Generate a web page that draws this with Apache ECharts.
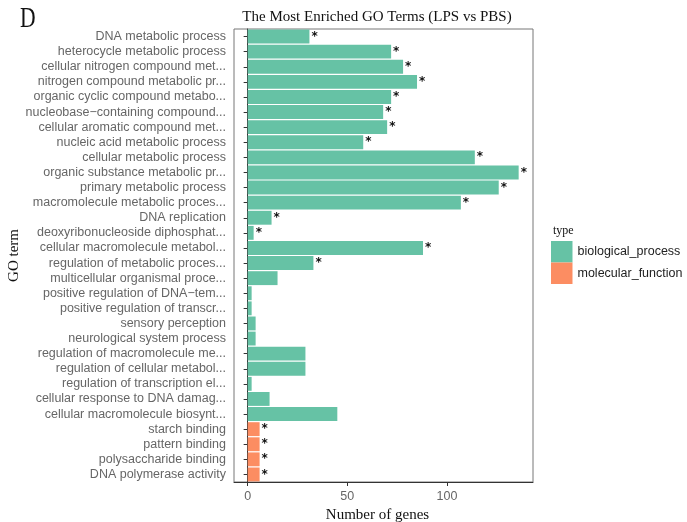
<!DOCTYPE html>
<html>
<head>
<meta charset="utf-8">
<script src="https://cdn.jsdelivr.net/npm/echarts@6/dist/echarts.min.js"></script>
<style>
  html, body { margin: 0; padding: 0; background: #fff; }
  #chart { width: 687px; height: 522px; }
</style>
</head>
<body>
<div id="chart"></div>
<script>
// GO terms, listed top to bottom
const terms = [
  'DNA metabolic process',
  'heterocycle metabolic process',
  'cellular nitrogen compound met...',
  'nitrogen compound metabolic pr...',
  'organic cyclic compound metabo...',
  'nucleobase\u2212containing compound...',
  'cellular aromatic compound met...',
  'nucleic acid metabolic process',
  'cellular metabolic process',
  'organic substance metabolic pr...',
  'primary metabolic process',
  'macromolecule metabolic proces...',
  'DNA replication',
  'deoxyribonucleoside diphosphat...',
  'cellular macromolecule metabol...',
  'regulation of metabolic proces...',
  'multicellular organismal proce...',
  'positive regulation of DNA\u2212tem...',
  'positive regulation of transcr...',
  'sensory perception',
  'neurological system process',
  'regulation of macromolecule me...',
  'regulation of cellular metabol...',
  'regulation of transcription el...',
  'cellular response to DNA damag...',
  'cellular macromolecule biosynt...',
  'starch binding',
  'pattern binding',
  'polysaccharide binding',
  'DNA polymerase activity'
];

// Number of genes per term
const geneCounts = [31, 72, 78, 85, 72, 68, 70, 58, 114, 136, 126, 107, 12, 3, 88, 33,
                    15, 2, 2, 4, 4, 29, 29, 2, 11, 45, 6, 6, 6, 6];

// GO category of each term
const termTypes = [
  'biological_process', 'biological_process', 'biological_process', 'biological_process',
  'biological_process', 'biological_process', 'biological_process', 'biological_process',
  'biological_process', 'biological_process', 'biological_process', 'biological_process',
  'biological_process', 'biological_process', 'biological_process', 'biological_process',
  'biological_process', 'biological_process', 'biological_process', 'biological_process',
  'biological_process', 'biological_process', 'biological_process', 'biological_process',
  'biological_process', 'biological_process',
  'molecular_function', 'molecular_function', 'molecular_function', 'molecular_function'
];

// Significantly enriched terms (marked with *)
const significant = [1, 1, 1, 1, 1, 1, 1, 1, 1, 1, 1, 1, 1, 1, 1, 1,
                     0, 0, 0, 0, 0, 0, 0, 0, 0, 0, 1, 1, 1, 1];

const typeNames = ['biological_process', 'molecular_function'];
const typeColors = ['#66C2A5', '#FC8D62'];
const xTicks = [0, 50, 100];

const chart = echarts.init(document.getElementById('chart'));

const series = typeNames.map((t, k) => ({
  name: t,
  type: 'bar',
  stack: 'genes',
  barCategoryGap: '8%',
  itemStyle: { color: typeColors[k] },
  label: {
    show: true,
    position: 'right',
    distance: 2,
    color: '#111',
    fontFamily: 'DejaVu Sans',
    fontSize: 12,
    fontWeight: 'bold',
    formatter: p => (significant[p.dataIndex] ? '*' : '')
  },
  data: geneCounts.map((v, i) => (termTypes[i] === t ? v : '-'))
}));

chart.setOption({
  animation: false,
  backgroundColor: '#fff',
  title: [
    {
      text: 'The Most Enriched GO Terms (LPS vs PBS)',
      left: 372, top: 5, textAlign: 'center',
      textStyle: { fontFamily: 'Liberation Serif', fontSize: 15, fontWeight: 'normal', color: '#111' }
    },
    {
      text: 'type',
      left: 548, top: 220,
      textStyle: { fontFamily: 'Liberation Serif', fontSize: 12, fontWeight: 'normal', color: '#111' }
    }
  ],
  graphic: [{
    type: 'text',
    left: 20, top: 4,
    scaleX: 0.72,
    style: { text: 'D', fontFamily: 'Liberation Serif', fontSize: 30, fill: '#111' }
  }],
  legend: {
    orient: 'vertical',
    left: 546, top: 236,
    icon: 'rect',
    itemWidth: 21.5, itemHeight: 21.5, itemGap: 0,
    textStyle: { fontFamily: 'Liberation Sans', fontSize: 12.5, color: '#222' },
    data: typeNames
  },
  grid: {
    left: 234, right: 154, top: 29, bottom: 40,
    outerBoundsMode: 'none',
    containLabel: false,
    show: true, borderColor: '#777', borderWidth: 1, backgroundColor: '#fff'
  },
  xAxis: {
    type: 'value',
    min: -6.85, max: 143.2,
    splitLine: { show: false },
    axisLine: { show: true, lineStyle: { color: '#333' } },
    axisTick: { show: true, length: 4, customValues: xTicks, lineStyle: { color: '#333' } },
    axisLabel: { customValues: xTicks, margin: 8, fontFamily: 'Liberation Sans', fontSize: 12.5, color: '#666' },
    name: 'Number of genes',
    nameLocation: 'middle',
    nameGap: 21,
    nameTextStyle: { fontFamily: 'Liberation Serif', fontSize: 15, color: '#111', padding: [0, 12, 0, 0] }
  },
  yAxis: {
    type: 'category',
    inverse: true,
    data: terms,
    axisLine: { show: true, lineStyle: { color: '#333' } },
    axisTick: { show: true, length: 4, alignWithLabel: true, lineStyle: { color: '#333' } },
    axisLabel: { interval: 0, margin: 8, fontFamily: 'Liberation Sans', fontSize: 12.5, color: '#666' },
    name: 'GO term',
    nameLocation: 'middle',
    nameRotate: 90,
    nameGap: 208,
    nameTextStyle: { fontFamily: 'Liberation Serif', fontSize: 15, color: '#111' }
  },
  series: series
});
</script>
</body>
</html>
